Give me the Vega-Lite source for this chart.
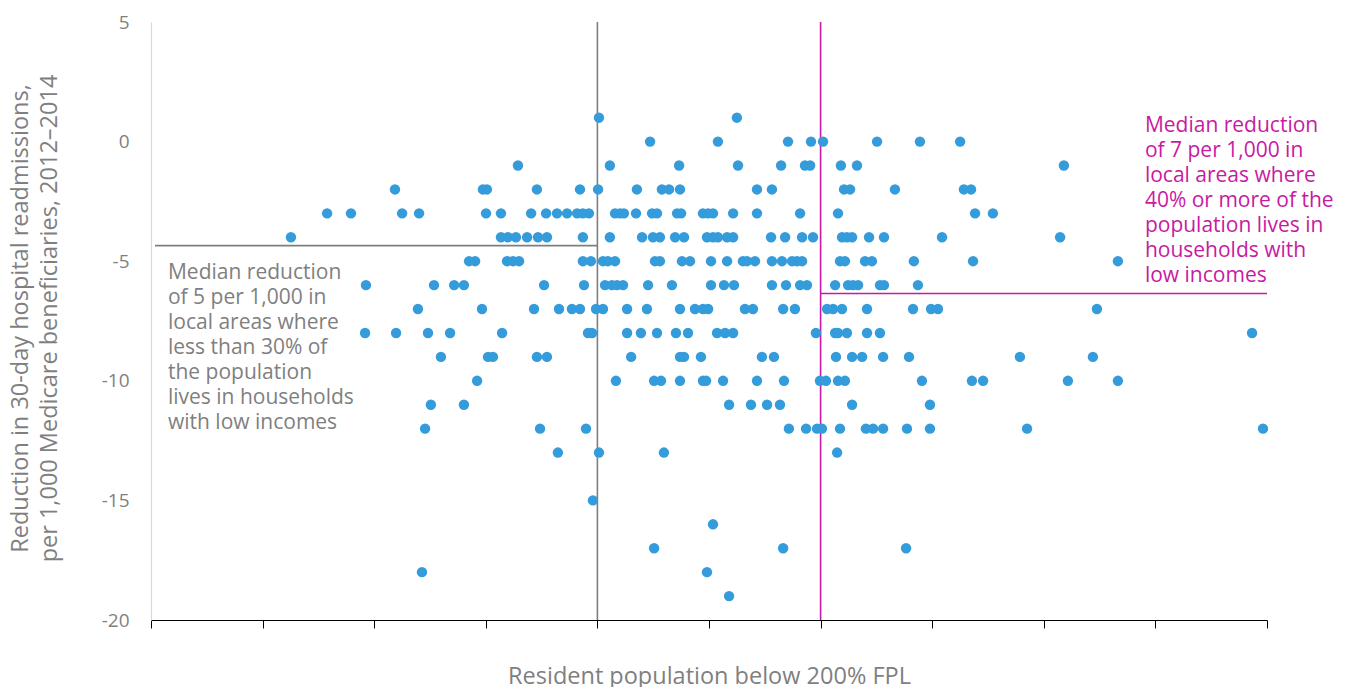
{
  "$schema": "https://vega.github.io/schema/vega-lite/v6.json",
  "width": 1116,
  "height": 598,
  "autosize": "none",
  "padding": {"left": 151, "top": 22, "right": 79, "bottom": 67},
  "config": {"view": {"stroke": null}, "font": "Open Sans"},
  "datasets": {
    "points": [
      {"pct": 30.07, "reduction": 1}, {"pct": 36.25, "reduction": 1},
      {"pct": 32.36, "reduction": 0}, {"pct": 35.40, "reduction": 0}, {"pct": 38.54, "reduction": 0}, {"pct": 39.57, "reduction": 0}, {"pct": 40.11, "reduction": 0}, {"pct": 42.53, "reduction": 0}, {"pct": 44.45, "reduction": 0}, {"pct": 46.25, "reduction": 0},
      {"pct": 26.44, "reduction": -1}, {"pct": 30.56, "reduction": -1}, {"pct": 33.66, "reduction": -1}, {"pct": 36.30, "reduction": -1}, {"pct": 38.23, "reduction": -1}, {"pct": 39.30, "reduction": -1}, {"pct": 39.53, "reduction": -1}, {"pct": 40.91, "reduction": -1}, {"pct": 41.63, "reduction": -1}, {"pct": 50.90, "reduction": -1},
      {"pct": 20.93, "reduction": -2}, {"pct": 24.87, "reduction": -2}, {"pct": 25.05, "reduction": -2}, {"pct": 27.29, "reduction": -2}, {"pct": 29.22, "reduction": -2}, {"pct": 30.03, "reduction": -2}, {"pct": 31.77, "reduction": -2}, {"pct": 32.89, "reduction": -2}, {"pct": 33.21, "reduction": -2}, {"pct": 33.70, "reduction": -2}, {"pct": 37.15, "reduction": -2}, {"pct": 37.82, "reduction": -2}, {"pct": 41.05, "reduction": -2}, {"pct": 41.32, "reduction": -2}, {"pct": 43.33, "reduction": -2}, {"pct": 46.42, "reduction": -2}, {"pct": 46.74, "reduction": -2},
      {"pct": 17.89, "reduction": -3}, {"pct": 18.96, "reduction": -3}, {"pct": 21.25, "reduction": -3}, {"pct": 22.01, "reduction": -3}, {"pct": 25.01, "reduction": -3}, {"pct": 25.68, "reduction": -3}, {"pct": 27.03, "reduction": -3}, {"pct": 27.70, "reduction": -3}, {"pct": 28.19, "reduction": -3}, {"pct": 28.64, "reduction": -3}, {"pct": 29.09, "reduction": -3}, {"pct": 29.35, "reduction": -3}, {"pct": 29.62, "reduction": -3}, {"pct": 30.79, "reduction": -3}, {"pct": 31.01, "reduction": -3}, {"pct": 31.19, "reduction": -3}, {"pct": 31.73, "reduction": -3}, {"pct": 32.45, "reduction": -3}, {"pct": 32.67, "reduction": -3}, {"pct": 33.57, "reduction": -3}, {"pct": 33.75, "reduction": -3}, {"pct": 34.73, "reduction": -3}, {"pct": 34.96, "reduction": -3}, {"pct": 35.18, "reduction": -3}, {"pct": 36.08, "reduction": -3}, {"pct": 37.15, "reduction": -3}, {"pct": 39.08, "reduction": -3}, {"pct": 40.78, "reduction": -3}, {"pct": 46.92, "reduction": -3}, {"pct": 47.72, "reduction": -3},
      {"pct": 16.27, "reduction": -4}, {"pct": 25.68, "reduction": -4}, {"pct": 25.99, "reduction": -4}, {"pct": 26.35, "reduction": -4}, {"pct": 26.85, "reduction": -4}, {"pct": 27.34, "reduction": -4}, {"pct": 27.74, "reduction": -4}, {"pct": 29.35, "reduction": -4}, {"pct": 30.56, "reduction": -4}, {"pct": 32.00, "reduction": -4}, {"pct": 32.49, "reduction": -4}, {"pct": 32.80, "reduction": -4}, {"pct": 33.48, "reduction": -4}, {"pct": 33.88, "reduction": -4}, {"pct": 34.91, "reduction": -4}, {"pct": 35.18, "reduction": -4}, {"pct": 35.40, "reduction": -4}, {"pct": 35.81, "reduction": -4}, {"pct": 36.08, "reduction": -4}, {"pct": 37.78, "reduction": -4}, {"pct": 38.41, "reduction": -4}, {"pct": 39.17, "reduction": -4}, {"pct": 39.66, "reduction": -4}, {"pct": 40.96, "reduction": -4}, {"pct": 41.18, "reduction": -4}, {"pct": 41.41, "reduction": -4}, {"pct": 42.17, "reduction": -4}, {"pct": 42.84, "reduction": -4}, {"pct": 45.44, "reduction": -4}, {"pct": 50.73, "reduction": -4},
      {"pct": 24.25, "reduction": -5}, {"pct": 24.52, "reduction": -5}, {"pct": 25.95, "reduction": -5}, {"pct": 26.22, "reduction": -5}, {"pct": 26.49, "reduction": -5}, {"pct": 29.35, "reduction": -5}, {"pct": 29.71, "reduction": -5}, {"pct": 30.25, "reduction": -5}, {"pct": 30.47, "reduction": -5}, {"pct": 30.79, "reduction": -5}, {"pct": 32.58, "reduction": -5}, {"pct": 32.80, "reduction": -5}, {"pct": 33.79, "reduction": -5}, {"pct": 34.15, "reduction": -5}, {"pct": 35.09, "reduction": -5}, {"pct": 35.81, "reduction": -5}, {"pct": 36.52, "reduction": -5}, {"pct": 36.70, "reduction": -5}, {"pct": 37.06, "reduction": -5}, {"pct": 37.82, "reduction": -5}, {"pct": 38.27, "reduction": -5}, {"pct": 38.72, "reduction": -5}, {"pct": 38.94, "reduction": -5}, {"pct": 39.17, "reduction": -5}, {"pct": 40.87, "reduction": -5}, {"pct": 41.09, "reduction": -5}, {"pct": 41.99, "reduction": -5}, {"pct": 42.30, "reduction": -5}, {"pct": 44.18, "reduction": -5}, {"pct": 46.83, "reduction": -5}, {"pct": 53.32, "reduction": -5},
      {"pct": 19.63, "reduction": -6}, {"pct": 22.68, "reduction": -6}, {"pct": 23.58, "reduction": -6}, {"pct": 24.02, "reduction": -6}, {"pct": 27.61, "reduction": -6}, {"pct": 29.40, "reduction": -6}, {"pct": 30.34, "reduction": -6}, {"pct": 30.65, "reduction": -6}, {"pct": 30.88, "reduction": -6}, {"pct": 31.15, "reduction": -6}, {"pct": 32.27, "reduction": -6}, {"pct": 33.34, "reduction": -6}, {"pct": 35.09, "reduction": -6}, {"pct": 35.67, "reduction": -6}, {"pct": 36.12, "reduction": -6}, {"pct": 37.82, "reduction": -6}, {"pct": 38.45, "reduction": -6}, {"pct": 39.08, "reduction": -6}, {"pct": 39.39, "reduction": -6}, {"pct": 40.65, "reduction": -6}, {"pct": 41.23, "reduction": -6}, {"pct": 41.45, "reduction": -6}, {"pct": 41.68, "reduction": -6}, {"pct": 42.66, "reduction": -6}, {"pct": 42.84, "reduction": -6}, {"pct": 44.36, "reduction": -6},
      {"pct": 21.96, "reduction": -7}, {"pct": 24.83, "reduction": -7}, {"pct": 27.16, "reduction": -7}, {"pct": 28.28, "reduction": -7}, {"pct": 28.86, "reduction": -7}, {"pct": 29.22, "reduction": -7}, {"pct": 29.94, "reduction": -7}, {"pct": 30.25, "reduction": -7}, {"pct": 31.33, "reduction": -7}, {"pct": 32.22, "reduction": -7}, {"pct": 33.70, "reduction": -7}, {"pct": 34.37, "reduction": -7}, {"pct": 34.73, "reduction": -7}, {"pct": 34.96, "reduction": -7}, {"pct": 36.61, "reduction": -7}, {"pct": 36.97, "reduction": -7}, {"pct": 38.32, "reduction": -7}, {"pct": 38.85, "reduction": -7}, {"pct": 40.29, "reduction": -7}, {"pct": 40.56, "reduction": -7}, {"pct": 40.96, "reduction": -7}, {"pct": 42.08, "reduction": -7}, {"pct": 44.14, "reduction": -7}, {"pct": 44.95, "reduction": -7}, {"pct": 45.26, "reduction": -7}, {"pct": 52.38, "reduction": -7},
      {"pct": 19.59, "reduction": -8}, {"pct": 20.98, "reduction": -8}, {"pct": 22.41, "reduction": -8}, {"pct": 23.40, "reduction": -8}, {"pct": 25.73, "reduction": -8}, {"pct": 29.58, "reduction": -8}, {"pct": 29.76, "reduction": -8}, {"pct": 31.33, "reduction": -8}, {"pct": 31.95, "reduction": -8}, {"pct": 32.67, "reduction": -8}, {"pct": 33.52, "reduction": -8}, {"pct": 34.06, "reduction": -8}, {"pct": 35.36, "reduction": -8}, {"pct": 35.72, "reduction": -8}, {"pct": 36.08, "reduction": -8}, {"pct": 39.79, "reduction": -8}, {"pct": 40.65, "reduction": -8}, {"pct": 40.78, "reduction": -8}, {"pct": 41.18, "reduction": -8}, {"pct": 42.08, "reduction": -8}, {"pct": 42.66, "reduction": -8}, {"pct": 59.33, "reduction": -8},
      {"pct": 22.99, "reduction": -9}, {"pct": 25.10, "reduction": -9}, {"pct": 25.32, "reduction": -9}, {"pct": 27.29, "reduction": -9}, {"pct": 27.74, "reduction": -9}, {"pct": 31.51, "reduction": -9}, {"pct": 33.70, "reduction": -9}, {"pct": 33.88, "reduction": -9}, {"pct": 34.64, "reduction": -9}, {"pct": 37.37, "reduction": -9}, {"pct": 37.91, "reduction": -9}, {"pct": 40.69, "reduction": -9}, {"pct": 41.41, "reduction": -9}, {"pct": 41.86, "reduction": -9}, {"pct": 42.80, "reduction": -9}, {"pct": 43.96, "reduction": -9}, {"pct": 48.93, "reduction": -9}, {"pct": 52.20, "reduction": -9},
      {"pct": 24.61, "reduction": -10}, {"pct": 30.83, "reduction": -10}, {"pct": 32.54, "reduction": -10}, {"pct": 32.85, "reduction": -10}, {"pct": 33.70, "reduction": -10}, {"pct": 34.73, "reduction": -10}, {"pct": 34.87, "reduction": -10}, {"pct": 35.63, "reduction": -10}, {"pct": 37.15, "reduction": -10}, {"pct": 38.36, "reduction": -10}, {"pct": 39.97, "reduction": -10}, {"pct": 40.24, "reduction": -10}, {"pct": 40.78, "reduction": -10}, {"pct": 41.09, "reduction": -10}, {"pct": 44.54, "reduction": -10}, {"pct": 46.78, "reduction": -10}, {"pct": 47.28, "reduction": -10}, {"pct": 51.08, "reduction": -10}, {"pct": 53.32, "reduction": -10},
      {"pct": 22.54, "reduction": -11}, {"pct": 24.02, "reduction": -11}, {"pct": 35.90, "reduction": -11}, {"pct": 36.88, "reduction": -11}, {"pct": 37.60, "reduction": -11}, {"pct": 38.18, "reduction": -11}, {"pct": 41.41, "reduction": -11}, {"pct": 44.90, "reduction": -11},
      {"pct": 22.28, "reduction": -12}, {"pct": 27.43, "reduction": -12}, {"pct": 29.49, "reduction": -12}, {"pct": 38.58, "reduction": -12}, {"pct": 39.35, "reduction": -12}, {"pct": 39.84, "reduction": -12}, {"pct": 40.06, "reduction": -12}, {"pct": 40.87, "reduction": -12}, {"pct": 42.03, "reduction": -12}, {"pct": 42.35, "reduction": -12}, {"pct": 42.80, "reduction": -12}, {"pct": 43.87, "reduction": -12}, {"pct": 44.90, "reduction": -12}, {"pct": 49.25, "reduction": -12}, {"pct": 59.82, "reduction": -12},
      {"pct": 28.23, "reduction": -13}, {"pct": 30.07, "reduction": -13}, {"pct": 32.98, "reduction": -13}, {"pct": 40.74, "reduction": -13},
      {"pct": 29.80, "reduction": -15},
      {"pct": 35.18, "reduction": -16},
      {"pct": 32.54, "reduction": -17}, {"pct": 38.32, "reduction": -17}, {"pct": 43.83, "reduction": -17},
      {"pct": 22.14, "reduction": -18}, {"pct": 34.91, "reduction": -18},
      {"pct": 35.90, "reduction": -19}
    ],
    "medians": [
      {"group": "below30", "x": 30, "x2": 30, "y": -20, "y2": 5},
      {"group": "below30", "x": 10.18, "x2": 30, "y": -4.35, "y2": -4.35},
      {"group": "over40", "x": 40, "x2": 40, "y": -20, "y2": 5},
      {"group": "over40", "x": 40, "x2": 60, "y": -6.35, "y2": -6.35}
    ],
    "notes": [
      {"group": "below30", "x": 10.76, "y": -5.02, "label": "Median reduction\nof 5 per 1,000 in\nlocal areas where\nless than 30% of\nthe population\nlives in households\nwith low incomes"},
      {"group": "over40", "x": 54.53, "y": 1.1, "label": "Median reduction\nof 7 per 1,000 in\nlocal areas where\n40% or more of the\npopulation lives in\nhouseholds with\nlow incomes"}
    ]
  },
  "layer": [
    {
      "data": {"name": "medians"},
      "mark": {"type": "rule", "strokeWidth": 1.6},
      "encoding": {
        "x": {"field": "x", "type": "quantitative", "scale": {"domain": [10, 60], "nice": false, "zero": false}},
        "x2": {"field": "x2"},
        "y": {"field": "y", "type": "quantitative", "scale": {"domain": [-20, 5], "nice": false, "zero": false}},
        "y2": {"field": "y2"},
        "color": {"field": "group", "type": "nominal", "scale": {"domain": ["below30", "over40"], "range": ["#7f7f7f", "#c81aa2"]}, "legend": null}
      }
    },
    {
      "data": {"name": "points"},
      "mark": {"type": "circle", "size": 108, "opacity": 1, "color": "#359cdb"},
      "encoding": {
        "x": {
          "field": "pct", "type": "quantitative",
          "scale": {"domain": [10, 60], "nice": false, "zero": false},
          "axis": {
            "orient": "bottom", "values": [10, 15, 20, 25, 30, 35, 40, 45, 50, 55, 60],
            "labels": false, "ticks": true, "tickSize": 8, "tickColor": "#000000", "tickWidth": 1,
            "domainColor": "#000000", "domainWidth": 1.2, "grid": false,
            "title": "Resident population below 200% FPL",
            "titleFontSize": 23.5, "titleFontWeight": "normal", "titleColor": "#7f7f7f", "titlePadding": 36
          }
        },
        "y": {
          "field": "reduction", "type": "quantitative",
          "scale": {"domain": [-20, 5], "nice": false, "zero": false},
          "axis": {
            "values": [-20, -15, -10, -5, 0, 5], "ticks": false, "grid": false,
            "labelExpr": "'' + datum.value",
            "domainColor": "#d9d9d9", "domainWidth": 1.2,
            "labelFontSize": 19, "labelColor": "#7f7f7f", "labelPadding": 22,
            "title": ["Reduction in 30-day hospital readmissions,", "per 1,000 Medicare beneficiaries, 2012–2014"],
            "titleFontSize": 23.5, "titleFontWeight": "normal", "titleColor": "#7f7f7f",
            "titleLineHeight": 29, "titleAlign": "center", "titleBaseline": "top",
            "titleX": -143, "titleY": 296, "titleAngle": -90
          }
        }
      }
    },
    {
      "data": {"name": "notes"},
      "mark": {"type": "text", "align": "left", "baseline": "top", "fontSize": 21, "lineHeight": 25, "lineBreak": "\n"},
      "encoding": {
        "x": {"field": "x", "type": "quantitative"},
        "y": {"field": "y", "type": "quantitative"},
        "text": {"field": "label"},
        "color": {"field": "group", "type": "nominal", "scale": {"domain": ["below30", "over40"], "range": ["#7f7f7f", "#c81aa2"]}, "legend": null}
      }
    }
  ]
}
